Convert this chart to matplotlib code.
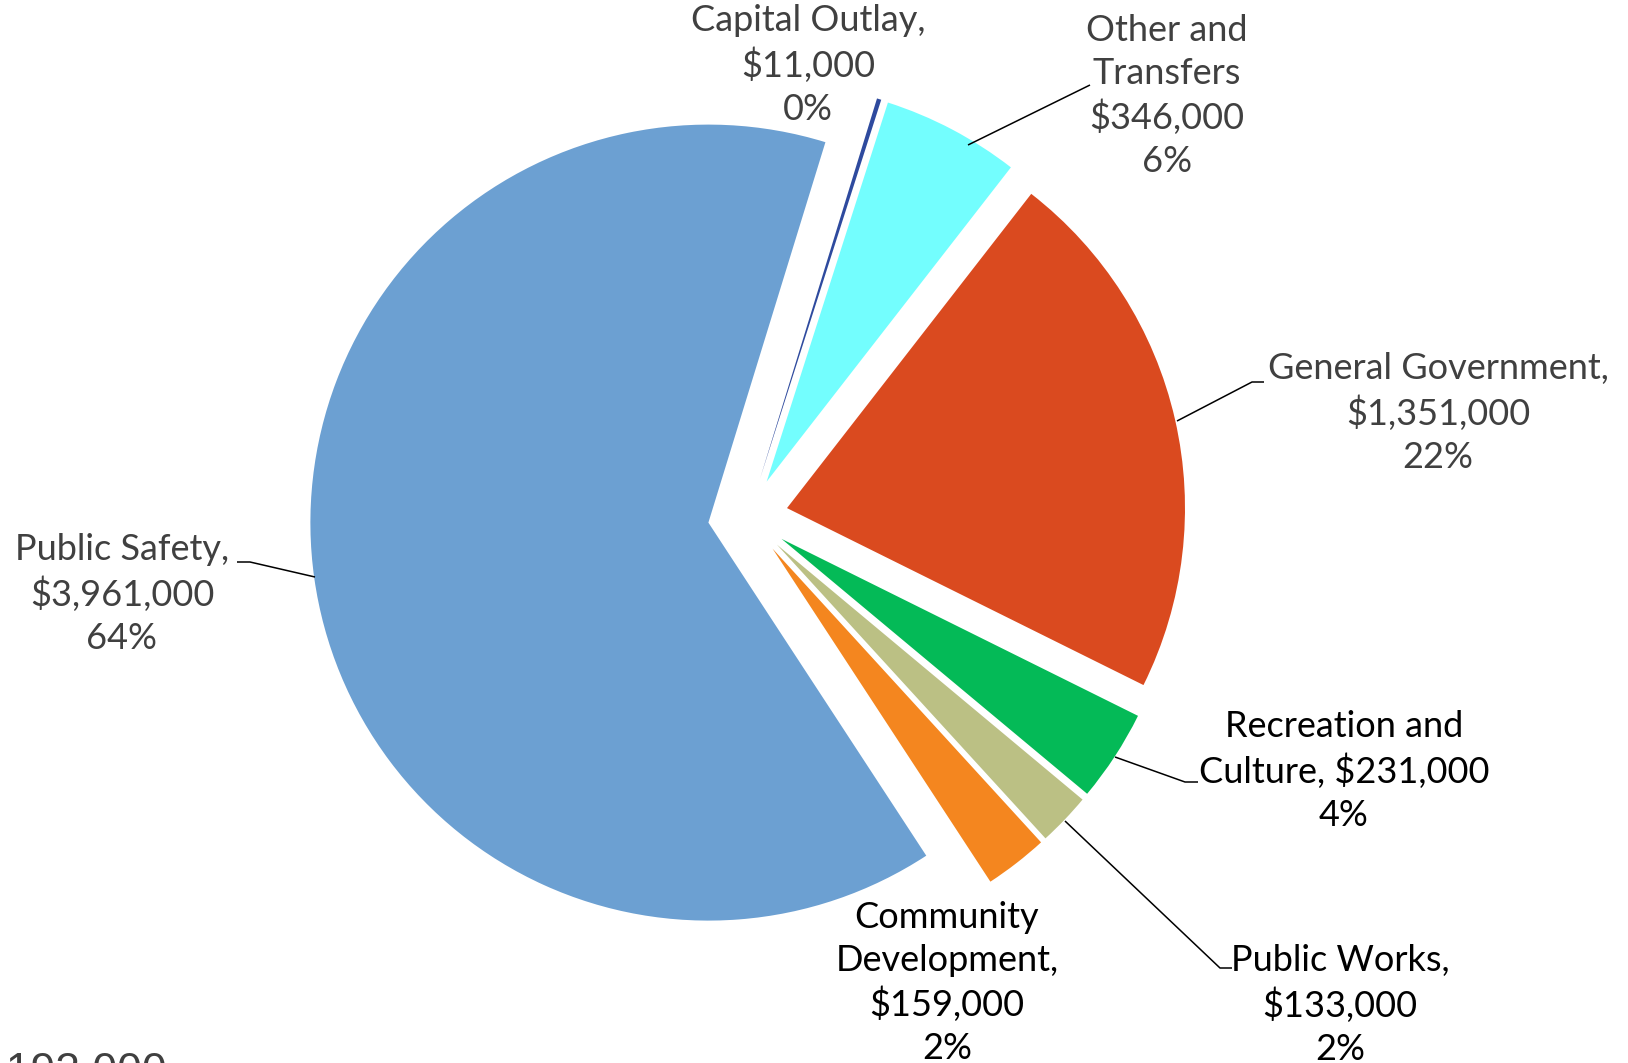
import matplotlib
matplotlib.use("Agg")
import matplotlib.pyplot as plt

# ── data ──────────────────────────────────────────────────────────────────────
categories = ["Capital Outlay", "Other and Transfers", "General Government",
              "Recreation and Culture", "Public Works", "Community Development",
              "Public Safety"]
values = [11000, 346000, 1351000, 231000, 133000, 159000, 3961000]
percents = [0, 6, 22, 4, 2, 2, 64]
label_names = ["Capital Outlay,", "Other and\nTransfers", "General Government,",
               "Recreation and\nCulture,", "Public Works,", "Community\nDevelopment,",
               "Public Safety,"]
colors = ["#2E4A9E", "#73FEFE", "#DA4A1F", "#04BA57", "#BBC084", "#F4861F", "#6CA0D2"]
text_colors = ["#404040", "#404040", "#404040", "#000000", "#000000", "#000000", "#404040"]

W, H = 1628, 1063
fig = plt.figure(figsize=(W / 100, H / 100), dpi=100)
ax = fig.add_axes([0, 0, 1, 1])
ax.axis("off")

total = sum(values)
# explode is in data units here (pixels), ~10% of the radius
ax.pie(values, colors=colors, explode=[40] * len(values), radius=398,
       center=(748, H - 517), startangle=72.9, counterclock=False,
       wedgeprops=dict(linewidth=0))
ax.set_xlim(0, W)
ax.set_ylim(0, H)
ax.set_aspect("equal")

# label block centres (x, y from top)
label_pos = [(808, 65), (1167, 96), (1438, 413), (1344, 771), (1340, 1005),
             (947, 983), (122, 594)]

for name, v, pct, (lx, ly), tc in zip(label_names, values, percents, label_pos, text_colors):
    if name.startswith("Recreation"):
        txt = f"{name} ${v:,}\n{pct}%"
    else:
        txt = f"{name}\n${v:,}\n{pct}%"
    ax.text(lx, H - ly, txt, ha="center", va="center", fontsize=26,
            color=tc, family="Lato", linespacing=1.35)

# leader lines (x, y from top)
leaders = [
    [(315, 577), (250, 562), (237, 562)],
    [(1177, 421), (1252, 382), (1264, 382)],
    [(968, 145), (1090, 85)],
    [(1115, 757), (1185, 782), (1198, 782)],
    [(1065, 821), (1220, 968), (1232, 968)],
]
for pts in leaders:
    xs = [p[0] for p in pts]
    ys = [H - p[1] for p in pts]
    ax.plot(xs, ys, color="black", lw=1.1, solid_capstyle="butt")

# total, clipped by the figure edge
ax.text(167, H - 1085, f"${total:,}", ha="right", va="baseline",
        fontsize=32, color="#404040", family="Liberation Sans")

fig.savefig("out.png", dpi=100)
